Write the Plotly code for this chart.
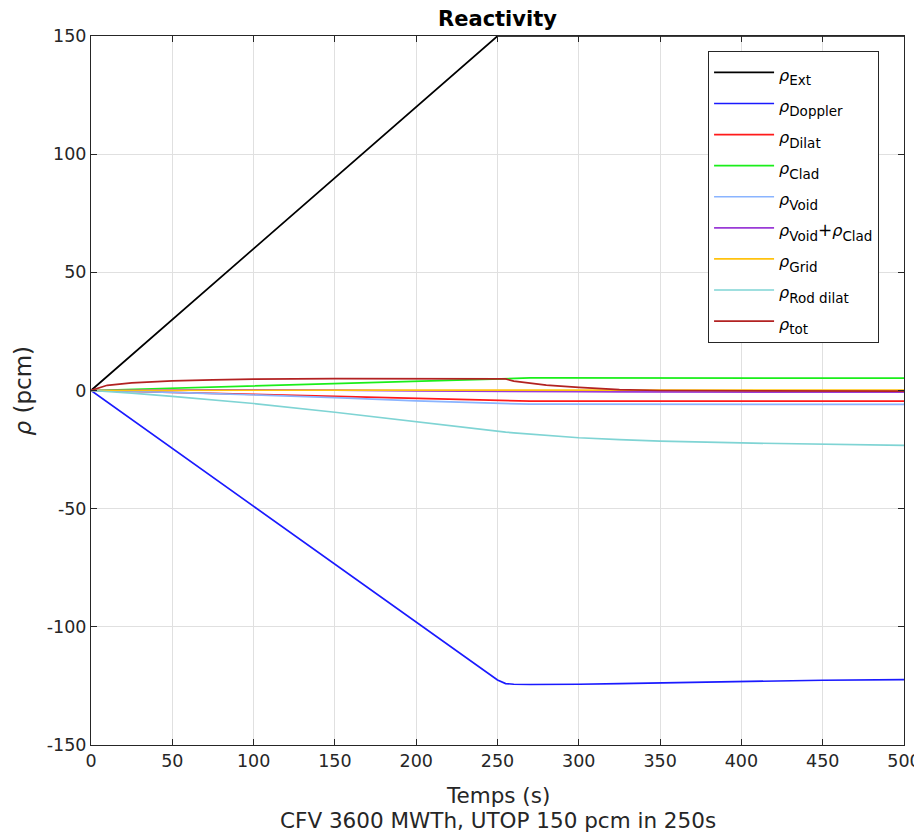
import plotly.graph_objects as go

# Time (s)
t = [0, 10, 25, 50, 75, 100, 150, 200, 250, 255, 260, 270, 280, 300, 325, 350, 400, 450, 500]

rho_ext = [0, 6, 15, 30, 45, 60, 90, 120, 150, 150, 150, 150, 150, 150, 150, 150, 150, 150, 150]
rho_doppler = [0, -4.9, -12.3, -24.5, -36.8, -49.0, -73.5, -98.0, -122.5, -124.0, -124.3, -124.4, -124.4, -124.3, -124.0, -123.7, -123.1, -122.6, -122.3]
rho_dilat = [0, -0.2, -0.4, -0.8, -1.2, -1.6, -2.5, -3.5, -4.4, -4.5, -4.5, -4.5, -4.5, -4.5, -4.5, -4.5, -4.5, -4.5, -4.5]
rho_clad = [0, 0.2, 0.5, 1.0, 1.6, 2.1, 3.2, 4.2, 5.1, 5.2, 5.3, 5.3, 5.3, 5.3, 5.3, 5.3, 5.3, 5.2, 5.2]
rho_void = [0, -0.1, -0.3, -0.8, -1.3, -1.8, -3.0, -4.4, -5.6, -5.7, -5.8, -5.8, -5.8, -5.8, -5.9, -5.9, -5.9, -5.9, -5.9]
rho_void_clad = [0, 0.1, 0.2, 0.2, 0.3, 0.3, 0.2, -0.2, -0.5, -0.5, -0.5, -0.5, -0.5, -0.5, -0.6, -0.6, -0.6, -0.7, -0.7]
rho_grid = [0, 0.02, 0.05, 0.1, 0.1, 0.15, 0.2, 0.2, 0.2, 0.2, 0.2, 0.2, 0.2, 0.2, 0.2, 0.2, 0.2, 0.2, 0.2]
rho_rod = [0, -0.4, -1.1, -2.5, -4.0, -5.5, -9.2, -13.3, -17.2, -17.6, -17.9, -18.5, -19.0, -20.0, -20.8, -21.4, -22.2, -22.8, -23.2]
rho_tot = [0, 2.2, 3.2, 4.1, 4.5, 4.8, 5.0, 4.9, 5.0, 4.9, 4.0, 3.0, 2.3, 1.3, 0.4, 0.0, -0.2, -0.3, -0.3]

x_ticks = [0, 50, 100, 150, 200, 250, 300, 350, 400, 450, 500]
x_ticklabels = ["0", "50", "100", "150", "200", "250", "300", "350", "400", "450", "500"]
y_ticks = [-150, -100, -50, 0, 50, 100, 150]
y_ticklabels = ["-150", "-100", "-50", "0", "50", "100", "150"]

subs = ["Ext", "Doppler", "Dilat", "Clad", "Void", None, "Grid", "Rod dilat", "tot"]
series = [rho_ext, rho_doppler, rho_dilat, rho_clad, rho_void, rho_void_clad, rho_grid, rho_rod, rho_tot]
colors = ["#000000", "#1a1aff", "#ff1a1a", "#1aee1a", "#8ab4ff", "#9a3ad6", "#ffc20e", "#7fd4d4", "#b22222"]


def lbl(s):
    return ('<span style="font-size:16px"><i>ρ</i></span><sub><span style="font-size:13.5px">'
            + s + '</span></sub>')


names = []
for s in subs:
    if s is None:
        names.append(lbl("Void") + '<span style="font-size:17px">+</span>' + lbl("Clad"))
    else:
        names.append(lbl(s))

fig = go.Figure()
for n, y, c in zip(names, series, colors):
    fig.add_trace(go.Scatter(x=t, y=y, mode="lines", name=n, line=dict(color=c, width=1.7)))

axis_common = dict(
    showline=True, linecolor="#262626", linewidth=1, mirror="allticks",
    ticks="inside", ticklen=6, tickcolor="#262626",
    showgrid=True, gridcolor="#e0e0e0", gridwidth=1, zeroline=False,
    tickfont=dict(family="DejaVu Sans", size=17.5, color="#262626"),
    automargin=False,
)

fig.update_layout(
    width=914, height=824,
    margin=dict(l=83, r=18, t=28, b=87),
    paper_bgcolor="white", plot_bgcolor="white",
    font=dict(family="DejaVu Sans", color="#262626"),
    title=dict(text="<b>Reactivity</b>", xref="paper", x=0.5, xanchor="center",
               yref="container", y=0.9873, yanchor="middle",
               font=dict(size=21, color="#000000")),
    xaxis=dict(range=[0, 500], tickvals=x_ticks, ticktext=x_ticklabels, **axis_common),
    yaxis=dict(range=[-150, 150], tickvals=y_ticks, ticktext=y_ticklabels, **axis_common),
    legend=dict(x=0.759, y=0.979, xanchor="left", yanchor="top",
                bgcolor="white", bordercolor="#262626", borderwidth=1,
                font=dict(family="DejaVu Sans", size=21.6, color="#000000"),
                itemwidth=60, tracegroupgap=0),
    showlegend=True,
    annotations=[
        dict(text="Temps (s)", xref="paper", yref="paper", x=0.5, y=0,
             xanchor="center", yanchor="middle", yshift=-50, showarrow=False,
             font=dict(size=21.5, color="#262626")),
        dict(text="CFV 3600 MWTh, UTOP 150 pcm in 250s", xref="paper", yref="paper", x=0.5, y=0,
             xanchor="center", yanchor="middle", yshift=-75, showarrow=False,
             font=dict(size=21.5, color="#262626")),
        dict(text="<i>ρ</i> (pcm)", xref="paper", yref="paper", x=0, y=0.5,
             xanchor="center", yanchor="middle", xshift=-69, textangle=-90, showarrow=False,
             font=dict(size=23, color="#262626")),
    ],
)

fig.write_html("out.html")
